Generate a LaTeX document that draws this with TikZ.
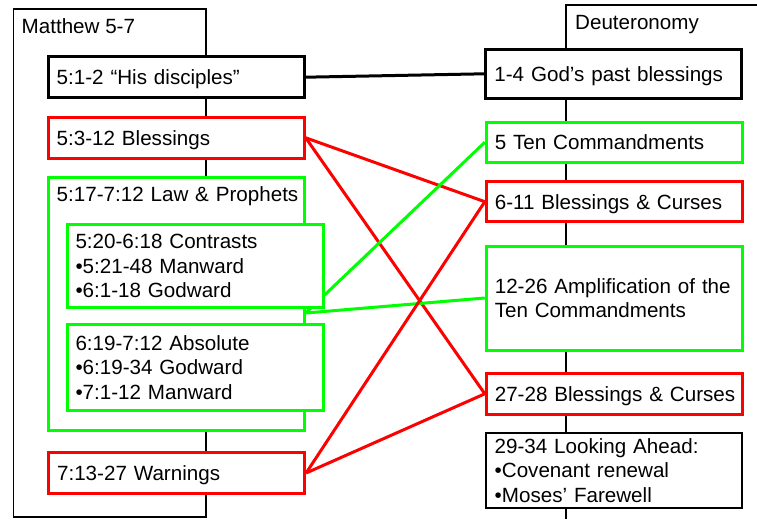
\documentclass[tikz,border=0pt]{standalone}
\usepackage{fontspec}
\setmainfont{Liberation Sans}
\usetikzlibrary{backgrounds}
\begin{document}
\begin{tikzpicture}[x=1pt,y=-1pt,
  every node/.style={font=\fontsize{20.6}{24.3}\selectfont},
  frameline/.style={draw=black, line width=1.3pt},
  box/.style={draw, fill=white, line width=3pt, rectangle, inner xsep=8.5pt, inner ysep=0pt,
              align=left, text width=239pt, minimum height=#1},
  oneline/.style={text height=14.8pt, text depth=0pt},
  conn/.style={line width=3pt},
  title/.style={anchor=base west, inner sep=0pt}
]
\useasboundingbox (0,0) rectangle (757,519);

% titles
\node[title] (mt) at (21.5,33.3) {Matthew 5-7};
\node[title] (dt) at (575,30) {Deuteronomy};

% left column boxes
\node[box=41pt, oneline, draw=black] (b1) at (176.2,77.2) {5:1-2 “His disciples”};
\node[box=41pt, oneline, draw=red] (b2) at (176.2,137.8) {5:3-12 Blessings};
\node[box=253.4pt, draw=green, text height=24.1pt, text depth=229.3pt] (b3) at (176.2,304) {\mbox{5:17-7:12 Law \& Prophets}};
\node[box=83.4pt, draw=green] (b4) at (195,266) {5:20-6:18 Contrasts\\•5:21-48 Manward\\•6:1-18 Godward};
\node[box=86.4pt, draw=green] (b5) at (195,367.5) {6:19-7:12 Absolute\\•6:19-34 Godward\\•7:1-12 Manward};
\node[box=40.6pt, oneline, draw=red] (b6) at (176.6,473) {7:13-27 Warnings};

% right column boxes
\node[box=49pt, oneline, draw=black] (r1) at (613.9,73.8) {1-4 God’s past blessings};
\node[box=40pt, oneline, draw=green] (r2) at (614.3,142.3) {5 Ten Commandments};
\node[box=40pt, oneline, draw=red] (r3) at (614.3,201.7) {6-11 Blessings \& Curses};
\node[box=104pt, draw=green] (r4) at (614.3,298) {12-26 Amplification of the\\Ten Commandments};
\node[box=41pt, oneline, draw=red] (r5) at (614.3,393.8) {\mbox{27-28 Blessings \& Curses}};
\node[box=75.6pt, draw=black, line width=1.8pt] (r6) at (614.2,470.5) {29-34 Looking Ahead:\\•Covenant renewal\\•Moses’ Farewell};

\begin{scope}[on background layer]
  % column frames
  \draw[frameline] (13.5,9) rectangle (206,517);
  \draw[frameline] (566,519) -- (566,5) -- (757,5);
  % connectors
  \draw[conn, black] (b1.east) -- (r1.west);
  \draw[conn, red] (b2.east) -- (r3.west);
  \draw[conn, red] (b2.east) -- (r5.west);
  \draw[conn, green] (r2.west) -- ([yshift=-9pt]b3.east);
  \draw[conn, green] (r4.west) -- ([yshift=-9pt]b3.east);
  \draw[conn, red] (b6.east) -- (r3.west);
  \draw[conn, red] (b6.east) -- (r5.west);
\end{scope}
\end{tikzpicture}
\end{document}
